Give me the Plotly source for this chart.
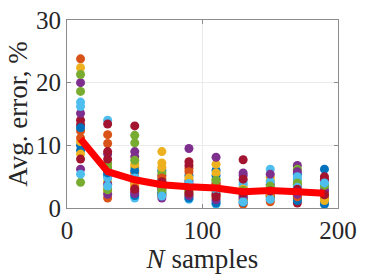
import plotly.graph_objects as go

n_samples = [10, 30, 50, 70, 90, 110, 130, 150, 170, 190]

# Avg. error (%) per sample size; entry i of each list belongs to run i
err_n10 = [10.0, 23.8, 22.4, 20.0, 21.3, 16.9, 14.0, 9.2, 12.3, 10.6, 15.1, 18.6, 16.2, 13.3, 12.8, 11.2, 8.6, 6.2, 4.1, 5.4, 7.8]
err_n30 = [6.0, 11.7, 4.2, 8.6, 7.2, 14.0, 13.4, 5.2, 10.3, 3.2, 3.8, 6.6, 4.8, 7.8, 5.6, 1.6, 2.6, 2.2, 2.9, 3.5, 9.0]
err_n50 = [4.5, 5.6, 6.5, 9.0, 11.6, 1.6, 13.1, 2.0, 4.0, 3.6, 8.2, 10.4, 5.0, 2.6, 6.0, 3.2, 7.0, 2.3, 7.6, 4.8, 3.0]
err_n70 = [6.0, 3.0, 9.0, 1.6, 2.2, 2.6, 5.2, 4.5, 4.0, 7.2, 3.4, 5.6, 3.8, 2.0, 2.4, 4.8, 6.5, 3.2, 2.8, 1.9, 4.2]
err_n90 = [5.2, 6.3, 1.8, 9.5, 3.0, 1.4, 7.4, 4.4, 3.6, 2.6, 4.0, 2.2, 3.3, 6.8, 1.6, 5.8, 4.8, 2.0, 2.8, 3.9, 2.4]
err_n110 = [6.0, 2.0, 7.0, 8.1, 4.6, 0.6, 4.0, 5.2, 3.0, 1.6, 3.4, 2.6, 1.1, 2.2, 0.8, 3.8, 5.6, 1.3, 4.4, 2.9, 1.8]
err_n130 = [3.0, 2.0, 3.4, 5.6, 1.2, 3.8, 7.7, 1.6, 0.6, 2.6, 5.2, 2.2, 4.2, 4.6, 0.9, 1.4, 3.0, 1.8, 2.8, 1.0, 2.4]
err_n150 = [3.2, 1.0, 4.9, 2.6, 2.0, 6.2, 3.0, 1.6, 1.3, 4.4, 3.8, 1.8, 4.2, 2.2, 2.8, 1.9, 2.4, 5.4, 3.5, 1.4, 2.7]
err_n170 = [5.4, 2.5, 4.2, 6.8, 6.2, 4.6, 3.5, 1.5, 2.0, 3.0, 5.8, 3.8, 5.0, 0.8, 1.2, 1.8, 2.8, 2.2, 4.0, 3.3, 3.0]
err_n190 = [6.2, 2.4, 1.5, 4.4, 3.0, 3.7, 5.0, 0.6, 1.8, 3.2, 2.6, 2.0, 3.4, 4.6, 1.0, 2.2, 1.2, 2.8, 3.6, 4.0, 2.1]

avg_err = [11.0, 5.8, 4.5, 3.7, 3.4, 3.2, 2.6, 2.8, 2.6, 2.35]

colors = ["#0072BD", "#D95319", "#EDB120", "#7E2F8E", "#77AC30", "#4DBEEE", "#A2142F"]

columns = [err_n10, err_n30, err_n50, err_n70, err_n90, err_n110,
           err_n130, err_n150, err_n170, err_n190]

fig = go.Figure()
n_runs = len(err_n10)
for i in range(n_runs):
    fig.add_trace(go.Scatter(
        x=n_samples, y=[col[i] for col in columns], mode="markers",
        marker=dict(size=9, color=colors[i % len(colors)], line=dict(width=0)),
        showlegend=False, hoverinfo="skip"))

fig.add_trace(go.Scatter(x=n_samples, y=avg_err, mode="lines",
                         line=dict(color="#FF0000", width=7),
                         showlegend=False, hoverinfo="skip"))

font_family = "Liberation Serif"
axis_common = dict(showline=True, linecolor="#8c8c8c", linewidth=1, mirror="allticks",
                   ticks="inside", ticklen=4, tickcolor="#8c8c8c",
                   showgrid=True, gridcolor="#ebebeb", gridwidth=1, zeroline=False,
                   automargin=False,
                   tickfont=dict(family=font_family, size=25, color="#262626"))

fig.update_xaxes(range=[0, 200], tickvals=[0, 100, 200],
                 title=dict(text="<i>N</i> samples", standoff=4,
                            font=dict(family=font_family, size=27, color="#262626")),
                 **axis_common)
fig.update_yaxes(range=[0, 30], tickvals=[0, 10, 20, 30],
                 title=dict(text="Avg. error, %", standoff=0,
                            font=dict(family=font_family, size=27, color="#262626")),
                 **axis_common)

fig.update_layout(width=374, height=280, margin=dict(l=67, r=36, t=20, b=72),
                  plot_bgcolor="white", paper_bgcolor="white")

fig.write_html("out.html", config={"displayModeBar": False},
               post_script="document.body.style.margin='0px';")
